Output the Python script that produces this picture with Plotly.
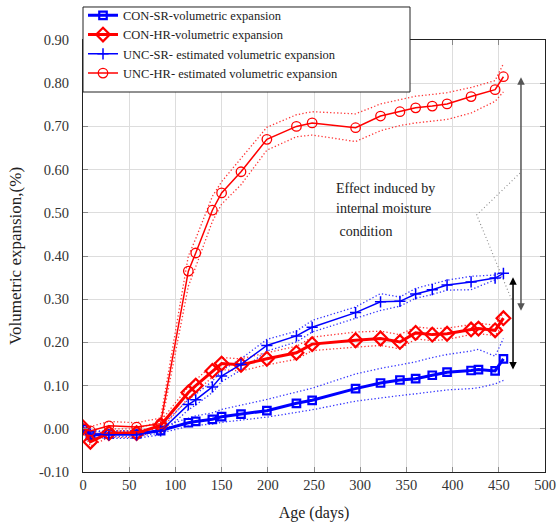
import plotly.graph_objects as go

# Measurement ages (days)
days_con = [0, 8, 28, 58, 84, 114, 122, 140, 150, 171, 199, 231, 248, 295, 322, 343, 360, 378, 394, 420, 428, 446, 455]
days_unc = [0, 8, 28, 58, 84, 114, 122, 140, 150, 171, 199, 231, 248, 295, 322, 343, 360, 378, 394, 420, 446, 455]

# Volumetric expansion (%) - confined specimens
con_sr = [0.000, -0.015, -0.012, -0.012, -0.004, 0.014, 0.017, 0.022, 0.028, 0.034, 0.042, 0.059, 0.066,
          0.093, 0.106, 0.113, 0.116, 0.124, 0.131, 0.135, 0.137, 0.134, 0.162]
con_sr_hi = [0.005, -0.008, -0.005, -0.004, 0.004, 0.025, 0.030, 0.037, 0.045, 0.055, 0.068, 0.085, 0.094,
             0.127, 0.140, 0.148, 0.155, 0.165, 0.172, 0.180, 0.184, 0.168, 0.209]
con_sr_lo = [-0.005, -0.021, -0.018, -0.018, -0.010, 0.006, 0.008, 0.011, 0.015, 0.020, 0.027, 0.038, 0.044,
             0.064, 0.072, 0.077, 0.081, 0.086, 0.090, 0.093, 0.095, 0.104, 0.112]

con_hr = [0.003, -0.030, -0.010, -0.010, 0.008, 0.084, 0.100, 0.134, 0.151, 0.148, 0.162, 0.176, 0.196,
          0.205, 0.209, 0.201, 0.222, 0.218, 0.220, 0.230, 0.232, 0.228, 0.256]
con_hr_hi = [0.012, -0.020, 0.000, 0.000, 0.018, 0.097, 0.113, 0.148, 0.165, 0.162, 0.176, 0.191, 0.212,
             0.224, 0.226, 0.218, 0.236, 0.232, 0.233, 0.242, 0.244, 0.240, 0.270]
con_hr_lo = [-0.006, -0.040, -0.020, -0.020, -0.002, 0.071, 0.087, 0.120, 0.137, 0.134, 0.148, 0.161, 0.181,
             0.189, 0.193, 0.185, 0.208, 0.204, 0.207, 0.218, 0.220, 0.216, 0.242]

# Volumetric expansion (%) - estimated for unconfined specimens
unc_sr = [0.000, -0.012, -0.014, -0.014, -0.005, 0.056, 0.067, 0.097, 0.122, 0.149, 0.193, 0.215, 0.235,
          0.269, 0.294, 0.295, 0.312, 0.322, 0.333, 0.340, 0.349, 0.360]
unc_sr_hi = [0.008, -0.004, -0.006, -0.006, 0.004, 0.068, 0.080, 0.110, 0.135, 0.162, 0.207, 0.226, 0.251,
             0.282, 0.313, 0.305, 0.325, 0.335, 0.344, 0.353, 0.356, 0.363]
unc_sr_lo = [-0.008, -0.020, -0.022, -0.022, -0.014, 0.044, 0.055, 0.084, 0.109, 0.136, 0.180, 0.201, 0.224,
             0.255, 0.274, 0.284, 0.302, 0.311, 0.321, 0.322, 0.344, 0.353]

unc_hr = [0.000, -0.005, 0.007, 0.004, 0.012, 0.365, 0.407, 0.506, 0.546, 0.595, 0.670, 0.700, 0.708,
          0.697, 0.724, 0.734, 0.743, 0.747, 0.752, 0.769, 0.785, 0.815]
unc_hr_hi = [0.010, 0.005, 0.017, 0.014, 0.025, 0.400, 0.440, 0.538, 0.572, 0.625, 0.698, 0.727, 0.734,
             0.729, 0.752, 0.762, 0.770, 0.774, 0.778, 0.790, 0.806, 0.845]
unc_hr_lo = [-0.010, -0.015, -0.003, -0.006, 0.000, 0.330, 0.375, 0.480, 0.520, 0.565, 0.645, 0.676, 0.680,
             0.665, 0.690, 0.702, 0.708, 0.712, 0.716, 0.731, 0.758, 0.780]

names = ["CON-SR-volumetric expansion", "CON-HR-volumetric expansion",
         "UNC-SR- estimated volumetric expansion", "UNC-HR- estimated volumetric expansion"]

x_ticks = list(range(0, 501, 50))
y_ticks = [round(-0.1 + 0.1 * i, 2) for i in range(11)]

# Annotation geometry (data coordinates)
note_lines = ["Effect induced by", "internal moisture", " condition"]
note_x = 271.6
note_y = [0.557, 0.509, 0.456]
arrow_a = dict(x=465.4, top=0.351, bottom=0.134)
arrow_b = dict(x=474.0, top=0.814, bottom=0.270)
leader_x = [472.9, 426.1, 464.0]
leader_y = [0.592, 0.495, 0.298]

BLUE = "#0000ff"
RED = "#ff0000"
BLUE_DOT = "rgba(30,30,255,0.9)"
RED_DOT = "rgba(255,30,30,0.9)"
DOTS = "1.3px,2.2px"
SERIF = "Liberation Serif, Times New Roman, serif"

fig = go.Figure()

# dotted envelopes
bands = [
    (days_con, con_sr_hi, con_sr_lo, BLUE_DOT),
    (days_con, con_hr_hi, con_hr_lo, RED_DOT),
    (days_unc, unc_sr_hi, unc_sr_lo, BLUE_DOT),
    (days_unc, unc_hr_hi, unc_hr_lo, RED_DOT),
]
for xs, hi, lo, col in bands:
    for ys in (hi, lo):
        fig.add_trace(go.Scatter(x=xs, y=ys, mode="lines", showlegend=False, hoverinfo="skip",
                                 line=dict(color=col, width=1.3, dash=DOTS)))

# main series
fig.add_trace(go.Scatter(x=days_con, y=con_sr, name=names[0], mode="lines+markers",
                         line=dict(color=BLUE, width=3),
                         marker=dict(symbol="square-open", size=7.5, color=BLUE, line=dict(width=2.2, color=BLUE))))
fig.add_trace(go.Scatter(x=days_con, y=con_hr, name=names[1], mode="lines+markers",
                         line=dict(color=RED, width=3),
                         marker=dict(symbol="diamond-open", size=10.5, color=RED, line=dict(width=2.2, color=RED))))
fig.add_trace(go.Scatter(x=days_unc, y=unc_sr, name=names[2], mode="lines+markers",
                         line=dict(color=BLUE, width=1.5),
                         marker=dict(symbol="cross-thin-open", size=8, color=BLUE, line=dict(width=1.5, color=BLUE))))
fig.add_trace(go.Scatter(x=days_unc, y=unc_hr, name=names[3], mode="lines+markers",
                         line=dict(color=RED, width=1.5),
                         marker=dict(symbol="circle-open", size=9.5, color=RED, line=dict(width=1.3, color=RED))))

# dotted leader lines from the note to the arrows
fig.add_trace(go.Scatter(x=leader_x, y=leader_y, mode="lines", showlegend=False, hoverinfo="skip",
                         line=dict(color="#8a8a8a", width=1.1, dash="1px,2.5px")))

annotations = []
for txt, yy in zip(note_lines, note_y):
    annotations.append(dict(x=note_x, y=yy, xref="x", yref="y", text=txt, showarrow=False,
                            xanchor="left", yanchor="middle", font=dict(family=SERIF, size=14, color="#222")))
annotations.append(dict(x=arrow_a["x"], y=arrow_a["top"], ax=arrow_a["x"], ay=arrow_a["bottom"],
                        xref="x", yref="y", axref="x", ayref="y", text="", showarrow=True,
                        arrowside="end+start", arrowhead=2, arrowsize=1, arrowwidth=1.5, arrowcolor="#000"))
annotations.append(dict(x=arrow_b["x"], y=arrow_b["top"], ax=arrow_b["x"], ay=arrow_b["bottom"],
                        xref="x", yref="y", axref="x", ayref="y", text="", showarrow=True,
                        arrowside="end+start", arrowhead=2, arrowsize=1, arrowwidth=1.5, arrowcolor="#555"))

axis_common = dict(showline=True, linecolor="#222", linewidth=1, mirror="ticks",
                   ticks="inside", ticklen=5, tickcolor="#888",
                   showgrid=True, gridcolor="#dddddd", gridwidth=1, zeroline=False,
                   tickfont=dict(family=SERIF, size=14.5, color="#333"))

fig.update_layout(
    width=557, height=524, autosize=False,
    margin=dict(l=83, r=12, t=40, b=52, autoexpand=False),
    paper_bgcolor="white", plot_bgcolor="white",
    xaxis=dict(range=[0, 500], tickvals=x_ticks, ticktext=[str(v) for v in x_ticks],
               title=dict(text="Age (days)", font=dict(family=SERIF, size=16, color="#222"), standoff=14),
               automargin=False, **axis_common),
    yaxis=dict(range=[-0.1, 0.9], tickvals=y_ticks, ticktext=[f"{v:.2f}" for v in y_ticks],
               ticklabelstandoff=10,
               title=dict(text="Volumetric expansion,(%)", font=dict(family=SERIF, size=17, color="#222"), standoff=12),
               automargin=False, **axis_common),
    legend=dict(x=0.0, y=1.091, xanchor="left", yanchor="top", bgcolor="rgba(0,0,0,0)",
                borderwidth=0, font=dict(family=SERIF, size=12.5, color="#222"), tracegroupgap=0,
                itemwidth=30),
    shapes=[dict(type="rect", xref="paper", yref="paper", x0=0, x1=0.7078, y0=0.8796, y1=1.0764,
                 line=dict(color="#222", width=1), fillcolor="white", layer="above")],
    annotations=annotations,
)

fig.write_html("out.html")
